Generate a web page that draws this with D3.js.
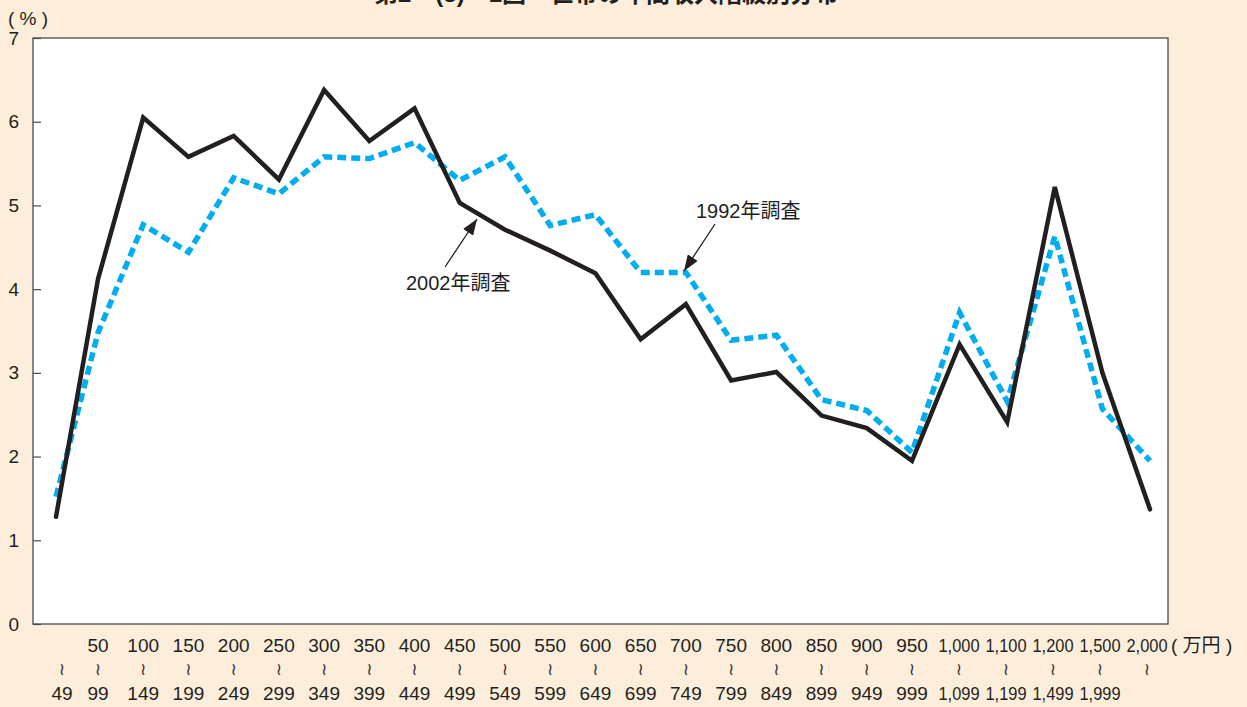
<!DOCTYPE html>
<html>
<head>
<meta charset="utf-8">
<script src="https://cdn.jsdelivr.net/npm/d3@7"></script>
<style>
  html, body { margin: 0; padding: 0; background: #fdeedb; }
  svg { display: block; }
</style>
</head>
<body>
<svg id="chart" width="1247" height="707"></svg>
<script>
// Income brackets (万円): lower bound shown on the first row, upper bound on the third
const lowerBounds = ["", "50", "100", "150", "200", "250", "300", "350", "400", "450",
  "500", "550", "600", "650", "700", "750", "800", "850", "900", "950",
  "1,000", "1,100", "1,200", "1,500", "2,000"];
const upperBounds = ["49", "99", "149", "199", "249", "299", "349", "399", "449", "499",
  "549", "599", "649", "699", "749", "799", "849", "899", "949", "999",
  "1,099", "1,199", "1,499", "1,999", ""];

// Share of households in each bracket (%)
const survey2002 = [1.28, 4.12, 6.05, 5.58, 5.83, 5.31, 6.38, 5.77, 6.16, 5.03,
  4.71, 4.46, 4.19, 3.40, 3.82, 2.91, 3.01, 2.49, 2.34, 1.95,
  3.34, 2.41, 5.22, 3.00, 1.37];
const survey1992 = [1.52, 3.48, 4.77, 4.44, 5.33, 5.14, 5.58, 5.56, 5.75, 5.30,
  5.58, 4.76, 4.89, 4.20, 4.20, 3.39, 3.45, 2.68, 2.55, 2.05,
  3.72, 2.66, 4.63, 2.57, 1.95];

const yTicks = [0, 1, 2, 3, 4, 5, 6, 7];

const svg = d3.select("#chart");
const FONT = "'Liberation Sans', Arial, Helvetica, sans-serif";
const CJK = "'Liberation Sans', 'Noto Sans CJK JP', sans-serif";

const frame = { left: 33, right: 1168, top: 38, bottom: 624 };

// Bracket index -> horizontal position (the 1,000+ brackets sit a little wider apart)
const idx = lowerBounds.map((d, i) => i);
const x = d3.scaleLinear().domain([0, 1, 19, 24]).range([56, 98, 912, 1150]);
const xLabel = d3.scaleLinear().domain([0, 1, 19, 24]).range([62, 98, 912, 1147]);
const y = d3.scaleLinear().domain([0, 7]).range([frame.bottom, frame.top]);

// Title (runs off the top edge)
svg.append("text")
  .attr("x", 606).attr("y", 2)
  .attr("text-anchor", "middle")
  .attr("font-family", CJK).attr("font-weight", "bold").attr("font-size", 24)
  .attr("fill", "#231f20")
  .text("第2－(3)－1図　世帯の年間収入階級別分布");

// Plot frame
svg.append("rect")
  .attr("x", frame.left).attr("y", frame.top)
  .attr("width", frame.right - frame.left).attr("height", frame.bottom - frame.top)
  .attr("fill", "#ffffff").attr("stroke", "#4a4a4a").attr("stroke-width", 1.3);

// Y axis: ticks point into the plot
const yAxis = d3.axisLeft(y).tickValues(yTicks).tickSize(-8).tickPadding(14)
  .tickFormat(d3.format("d"));
const gy = svg.append("g").attr("transform", `translate(${frame.left},0)`).call(yAxis);
gy.select(".domain").remove();
gy.selectAll(".tick line").attr("stroke", "#4a4a4a").attr("stroke-width", 1.2);
gy.selectAll(".tick text").attr("font-family", FONT).attr("font-size", 19).attr("fill", "#231f20");

svg.append("text")
  .attr("x", 8).attr("y", 25)
  .attr("font-family", FONT).attr("font-size", 19).attr("fill", "#231f20")
  .attr("xml:space", "preserve")
  .text("( % )");

// X axis labels: three rows (lower bound, wave mark, upper bound)
const labelG = svg.append("g").attr("font-family", FONT).attr("font-size", 19).attr("fill", "#231f20");
function fitLabel(sel) {
  sel.each(function () {
    const t = d3.select(this);
    if (t.text().length >= 5) t.attr("textLength", 41).attr("lengthAdjust", "spacingAndGlyphs");
  });
}
labelG.selectAll("text.low").data(idx).join("text")
  .attr("class", "low")
  .attr("x", i => xLabel(i)).attr("y", 652)
  .attr("text-anchor", "middle")
  .text(i => lowerBounds[i])
  .call(fitLabel);
labelG.selectAll("text.up").data(idx).join("text")
  .attr("class", "up")
  .attr("x", i => xLabel(i)).attr("y", 700)
  .attr("text-anchor", "middle")
  .text(i => upperBounds[i])
  .call(fitLabel);
labelG.selectAll("text.wave").data(idx).join("text")
  .attr("class", "wave")
  .attr("x", i => xLabel(i)).attr("y", 675)
  .attr("text-anchor", "middle")
  .attr("font-family", "'DejaVu Sans', sans-serif")
  .attr("font-size", 17)
  .attr("fill", "#333")
  .text("≀");

svg.append("text")
  .attr("x", 1171).attr("y", 652)
  .attr("font-family", CJK).attr("font-size", 19).attr("fill", "#231f20")
  .attr("xml:space", "preserve")
  .text("( 万円 )");

// Survey lines
const line = d3.line().x((d, i) => x(i)).y(d => y(d));

svg.append("path")
  .datum(survey1992)
  .attr("d", line)
  .attr("fill", "none")
  .attr("stroke", "#00adef")
  .attr("stroke-width", 5.5)
  .attr("stroke-dasharray", "9,5");

svg.append("path")
  .datum(survey2002)
  .attr("d", line)
  .attr("fill", "none")
  .attr("stroke", "#231f20")
  .attr("stroke-width", 4.5)
  .attr("stroke-linejoin", "miter")
  .attr("stroke-linecap", "round");

// Callouts
const defs = svg.append("defs");
defs.append("marker")
  .attr("id", "head")
  .attr("viewBox", "0 0 16 12")
  .attr("refX", 16).attr("refY", 6)
  .attr("markerWidth", 16).attr("markerHeight", 12)
  .attr("markerUnits", "userSpaceOnUse")
  .attr("orient", "auto")
  .append("path").attr("d", "M0,0 L16,6 L0,12 Z").attr("fill", "#231f20");

const callouts = [
  { text: "1992年調査", tx: 696, ty: 218, from: [715, 224], to: [684, 271] },
  { text: "2002年調査", tx: 406, ty: 290, from: [445, 267], to: [477, 219] }
];
callouts.forEach(c => {
  svg.append("line")
    .attr("x1", c.from[0]).attr("y1", c.from[1])
    .attr("x2", c.to[0]).attr("y2", c.to[1])
    .attr("stroke", "#231f20").attr("stroke-width", 1.3)
    .attr("marker-end", "url(#head)");
  svg.append("text")
    .attr("x", c.tx).attr("y", c.ty)
    .attr("font-family", CJK).attr("font-size", 20).attr("fill", "#231f20")
    .text(c.text);
});
</script>
</body>
</html>
